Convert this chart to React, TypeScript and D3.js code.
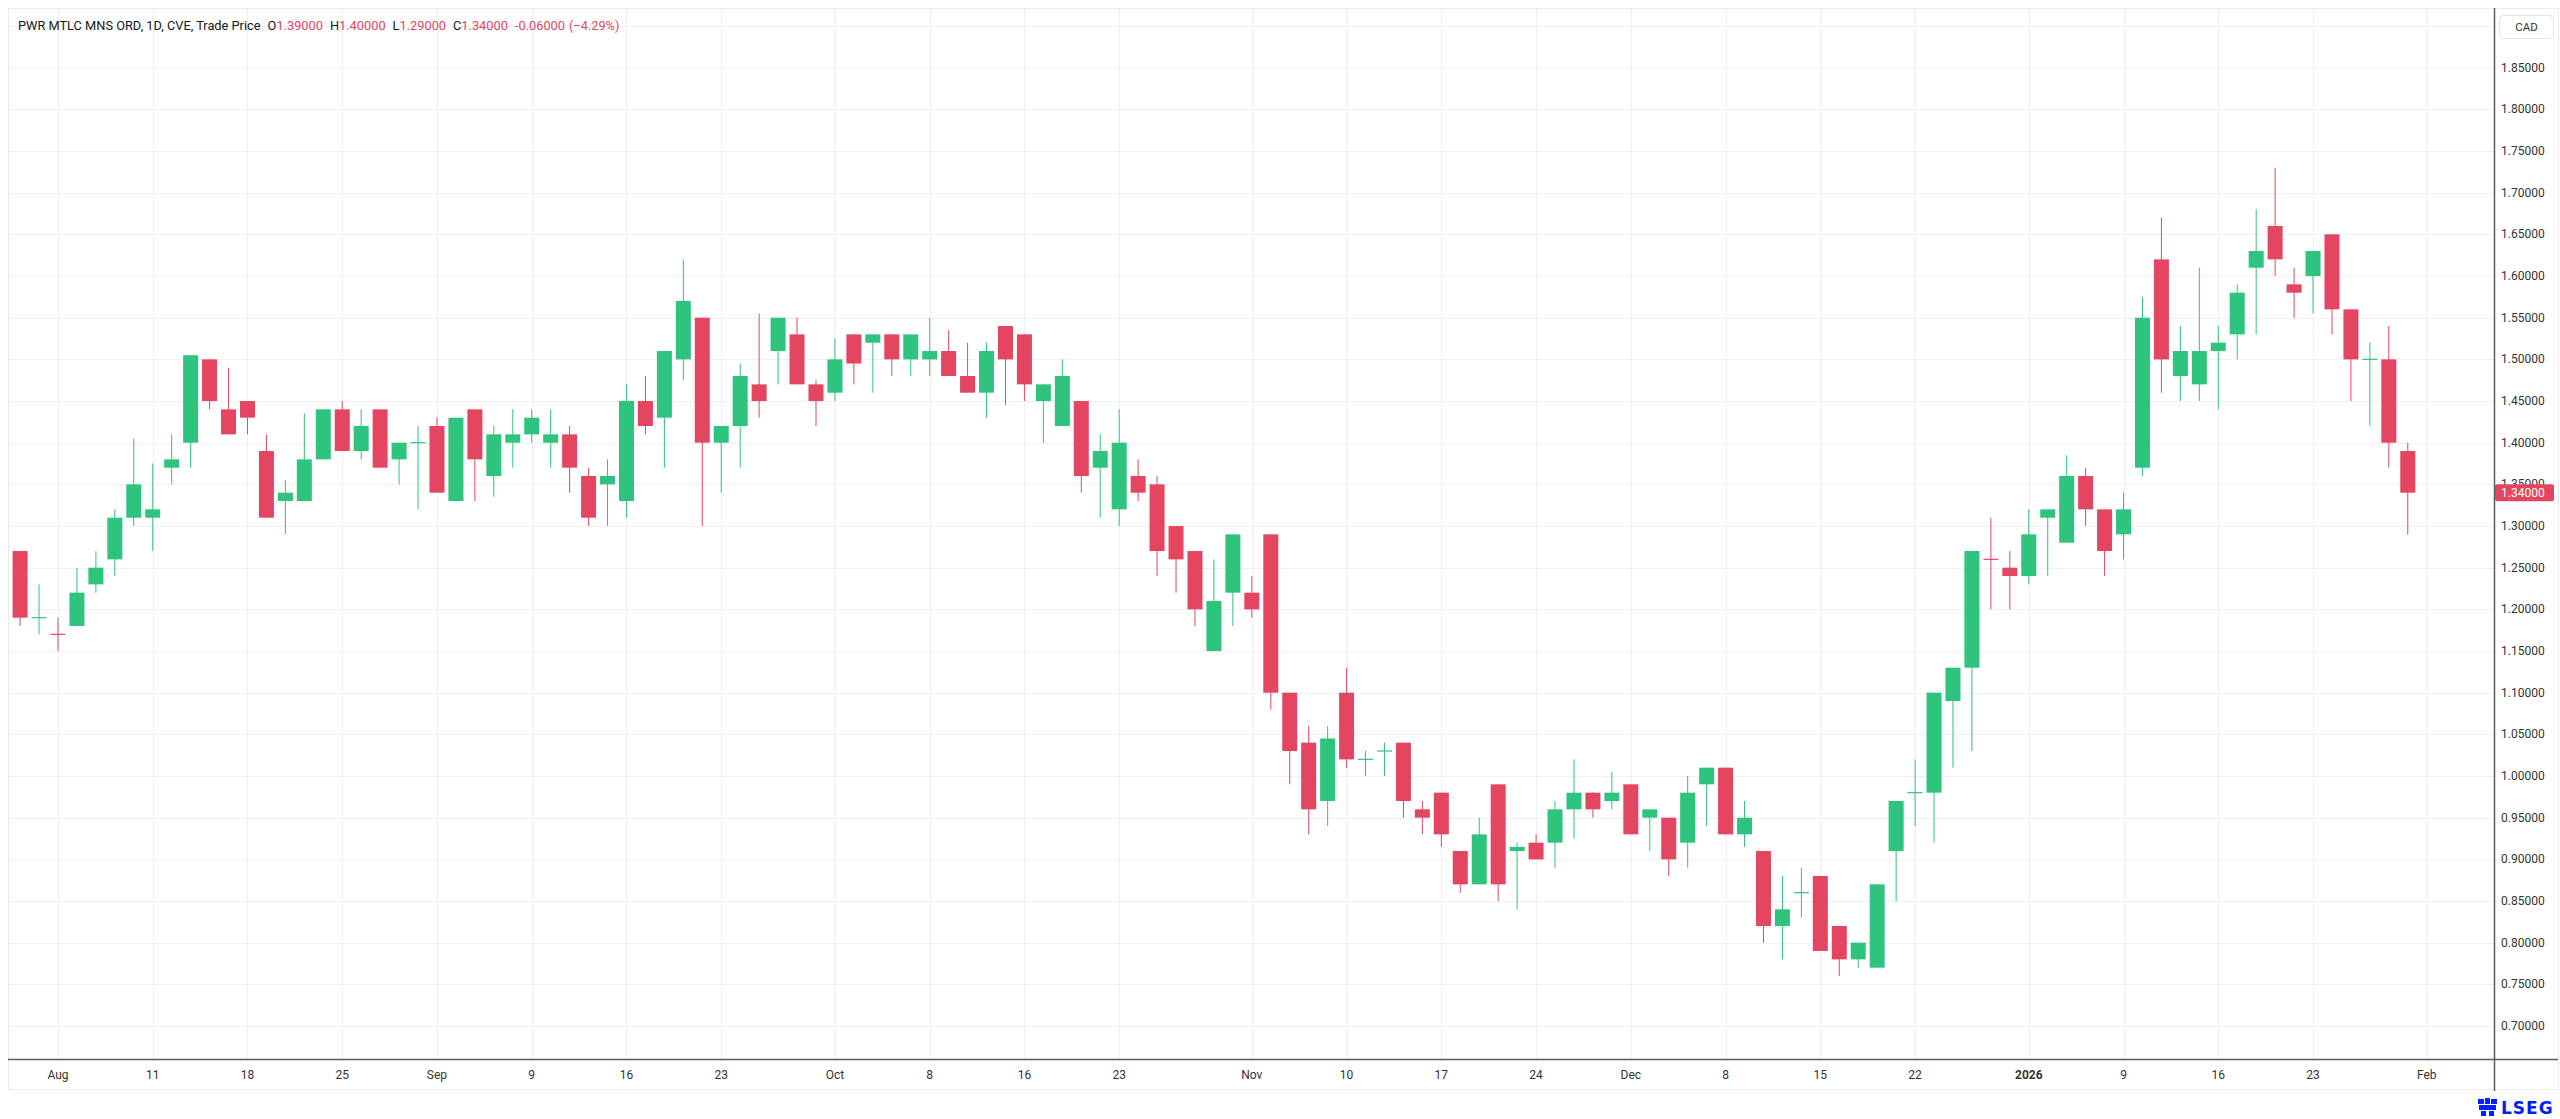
import React from "react";
import * as d3 from "d3";

// ---------- data ----------
const dates = [
  "2025-07-30","2025-07-31","2025-08-01","2025-08-05","2025-08-06","2025-08-07","2025-08-08","2025-08-11","2025-08-12","2025-08-13",
  "2025-08-14","2025-08-15","2025-08-18","2025-08-19","2025-08-20","2025-08-21","2025-08-22","2025-08-25","2025-08-26","2025-08-27",
  "2025-08-28","2025-08-29","2025-09-02","2025-09-03","2025-09-04","2025-09-05","2025-09-08","2025-09-09","2025-09-10","2025-09-11",
  "2025-09-12","2025-09-15","2025-09-16","2025-09-17","2025-09-18","2025-09-19","2025-09-22","2025-09-23","2025-09-24","2025-09-25",
  "2025-09-26","2025-09-29","2025-09-30","2025-10-01","2025-10-02","2025-10-03","2025-10-06","2025-10-07","2025-10-08","2025-10-09",
  "2025-10-10","2025-10-14","2025-10-15","2025-10-16","2025-10-17","2025-10-20","2025-10-21","2025-10-22","2025-10-23","2025-10-24",
  "2025-10-27","2025-10-28","2025-10-29","2025-10-30","2025-10-31","2025-11-03","2025-11-04","2025-11-05","2025-11-06","2025-11-07",
  "2025-11-10","2025-11-11","2025-11-12","2025-11-13","2025-11-14","2025-11-17","2025-11-18","2025-11-19","2025-11-20","2025-11-21",
  "2025-11-24","2025-11-25","2025-11-26","2025-11-27","2025-11-28","2025-12-01","2025-12-02","2025-12-03","2025-12-04","2025-12-05",
  "2025-12-08","2025-12-09","2025-12-10","2025-12-11","2025-12-12","2025-12-15","2025-12-16","2025-12-17","2025-12-18","2025-12-19",
  "2025-12-22","2025-12-23","2025-12-24","2025-12-29","2025-12-30","2025-12-31","2026-01-02","2026-01-05","2026-01-06","2026-01-07",
  "2026-01-08","2026-01-09","2026-01-12","2026-01-13","2026-01-14","2026-01-15","2026-01-16","2026-01-19","2026-01-20","2026-01-21",
  "2026-01-22","2026-01-23","2026-01-26","2026-01-27","2026-01-28","2026-01-29","2026-01-30",
];

const opens = [
  1.27,1.19,1.17,1.18,1.23,1.26,1.31,1.31,1.37,1.40,
  1.50,1.44,1.45,1.39,1.33,1.33,1.38,1.44,1.39,1.44,
  1.38,1.40,1.42,1.33,1.44,1.36,1.40,1.41,1.40,1.41,
  1.36,1.35,1.33,1.45,1.43,1.50,1.55,1.40,1.42,1.47,
  1.51,1.53,1.47,1.46,1.53,1.52,1.53,1.50,1.50,1.51,
  1.48,1.46,1.54,1.53,1.45,1.42,1.45,1.37,1.32,1.36,
  1.35,1.30,1.27,1.15,1.22,1.22,1.29,1.10,1.04,0.97,
  1.10,1.02,1.03,1.04,0.96,0.98,0.91,0.87,0.99,0.91,
  0.92,0.92,0.96,0.98,0.97,0.99,0.95,0.95,0.92,0.99,
  1.01,0.93,0.91,0.82,0.86,0.88,0.82,0.78,0.77,0.91,
  0.98,0.98,1.09,1.13,1.26,1.25,1.24,1.31,1.28,1.36,
  1.32,1.29,1.37,1.62,1.48,1.47,1.51,1.53,1.61,1.66,
  1.59,1.60,1.65,1.56,1.50,1.50,1.39,
];

const highs = [
  1.27,1.23,1.19,1.25,1.27,1.32,1.405,1.375,1.41,1.505,
  1.50,1.49,1.45,1.41,1.355,1.435,1.44,1.45,1.44,1.44,
  1.40,1.42,1.43,1.43,1.44,1.42,1.44,1.44,1.44,1.42,
  1.37,1.38,1.47,1.48,1.51,1.62,1.55,1.42,1.495,1.555,
  1.55,1.55,1.475,1.525,1.53,1.53,1.53,1.53,1.55,1.535,
  1.52,1.52,1.54,1.53,1.47,1.50,1.45,1.41,1.44,1.38,
  1.36,1.30,1.27,1.26,1.29,1.24,1.29,1.10,1.06,1.06,
  1.13,1.03,1.04,1.04,0.97,0.98,0.91,0.95,0.99,0.92,
  0.93,0.97,1.02,0.98,1.005,0.99,0.96,0.95,1.00,1.01,
  1.01,0.97,0.91,0.88,0.89,0.88,0.82,0.80,0.87,0.97,
  1.02,1.10,1.13,1.27,1.31,1.27,1.32,1.32,1.385,1.37,
  1.32,1.34,1.575,1.67,1.54,1.61,1.54,1.59,1.68,1.73,
  1.61,1.63,1.65,1.56,1.52,1.54,1.40,
];

const lows = [
  1.18,1.17,1.15,1.18,1.22,1.24,1.30,1.27,1.35,1.37,
  1.44,1.41,1.41,1.31,1.29,1.33,1.38,1.39,1.38,1.37,
  1.35,1.32,1.34,1.33,1.33,1.335,1.37,1.40,1.37,1.34,
  1.30,1.30,1.31,1.41,1.37,1.475,1.30,1.34,1.37,1.43,
  1.47,1.47,1.42,1.45,1.47,1.46,1.48,1.48,1.48,1.48,
  1.46,1.43,1.445,1.45,1.40,1.42,1.34,1.31,1.30,1.33,
  1.24,1.22,1.18,1.15,1.18,1.19,1.08,0.99,0.93,0.94,
  1.01,1.00,1.00,0.95,0.93,0.915,0.86,0.87,0.85,0.84,
  0.90,0.89,0.925,0.95,0.96,0.93,0.91,0.88,0.89,0.94,
  0.93,0.915,0.80,0.78,0.83,0.79,0.76,0.77,0.77,0.85,
  0.94,0.92,1.01,1.03,1.20,1.20,1.23,1.24,1.28,1.30,
  1.24,1.26,1.36,1.46,1.45,1.45,1.44,1.50,1.53,1.60,
  1.55,1.555,1.53,1.45,1.42,1.37,1.29,
];

const closes = [
  1.19,1.19,1.17,1.22,1.25,1.31,1.35,1.32,1.38,1.505,
  1.45,1.41,1.43,1.31,1.34,1.38,1.44,1.39,1.42,1.37,
  1.40,1.40,1.34,1.43,1.38,1.41,1.41,1.43,1.41,1.37,
  1.31,1.36,1.45,1.42,1.51,1.57,1.40,1.42,1.48,1.45,
  1.55,1.47,1.45,1.50,1.495,1.53,1.50,1.53,1.51,1.48,
  1.46,1.51,1.50,1.47,1.47,1.48,1.36,1.39,1.40,1.34,
  1.27,1.26,1.20,1.21,1.29,1.20,1.10,1.03,0.96,1.045,
  1.02,1.02,1.03,0.97,0.95,0.93,0.87,0.93,0.87,0.915,
  0.90,0.96,0.98,0.96,0.98,0.93,0.96,0.90,0.98,1.01,
  0.93,0.95,0.82,0.84,0.86,0.79,0.78,0.80,0.87,0.97,
  0.98,1.10,1.13,1.27,1.26,1.24,1.29,1.32,1.36,1.32,
  1.27,1.32,1.55,1.50,1.51,1.51,1.52,1.58,1.63,1.62,
  1.58,1.63,1.56,1.50,1.50,1.40,1.34,
];

const timeTickIndex = [2, 7, 12, 17, 22, 27, 32, 37, 43, 48, 53, 58, 65, 70, 75, 80, 85, 90, 95, 100, 106, 111, 116, 121, 127];
const timeTickLabels = ["Aug", "11", "18", "25", "Sep", "9", "16", "23", "Oct", "8", "16", "23", "Nov", "10", "17", "24", "Dec", "8", "15", "22", "2026", "9", "16", "23", "Feb"];
const yearLabels = ["2026"];

const priceTicks = [0.70, 0.75, 0.80, 0.85, 0.90, 0.95, 1.00, 1.05, 1.10, 1.15, 1.20, 1.25, 1.30, 1.35, 1.40, 1.45, 1.50, 1.55, 1.60, 1.65, 1.70, 1.75, 1.80, 1.85];
const extraGridPrices = [1.90];

const symbolName = "PWR MTLC MNS ORD";
const intervalName = "1D";
const exchangeName = "CVE";
const priceType = "Trade Price";
const currency = "CAD";

// ---------- style ----------
const W = 2560;
const H = 1119;
const UP = "#2ec47e";
const DOWN = "#e44661";
const GRID = "#f0f0f0";
const AXIS = "#5d5d5d";
const TEXT = "#333333";
const FONT = "Roboto, 'Open Sans', sans-serif";

const PANE_L = 8;
const PANE_T = 8;
const PANE_R = 2494;
const PANE_B = 1059;
const OUTER_R = 2558;
const OUTER_B = 1089;

export default function App() {
  const n = closes.length;
  const bars = dates.map((d, i) => {
    const o = opens[i], c = closes[i];
    let up: boolean;
    if (c > o) up = true;
    else if (c < o) up = false;
    else up = i === 0 ? true : c >= closes[i - 1];
    return { d, i, o, h: highs[i], l: lows[i], c, up };
  });

  const x = d3.scaleLinear().domain([-0.585, 130.55]).range([PANE_L + 1, PANE_R]);
  const y = d3.scaleLinear().domain([0.70, 1.85]).range([1026, 67.7]);
  const step = x(1) - x(0);
  const bodyW = Math.round(step * 0.79);

  const last = bars[n - 1];
  const prev = bars[n - 2];
  const chg = last.c - prev.c;
  const pct = (chg / prev.c) * 100;
  const fmt = d3.format(".5f");
  const chgStr = (chg < 0 ? "-" : "+") + fmt(Math.abs(chg));
  const pctStr = "(" + (pct < 0 ? "\u2212" : "+") + Math.abs(pct).toFixed(2) + "%)";
  const lastCol = last.c >= prev.c ? UP : DOWN;

  return (
    <svg
      width={W}
      height={H}
      viewBox={`0 0 ${W} ${H}`}
      style={{ position: "absolute", left: 0, top: 0, display: "block", background: "#ffffff" }}
      fontFamily={FONT}
    >
      <rect x={0} y={0} width={W} height={H} fill="#ffffff" />
      {/* outer frame */}
      <rect x={PANE_L + 0.5} y={PANE_T + 0.5} width={OUTER_R - PANE_L} height={OUTER_B - PANE_T} fill="none" stroke="#ebebeb" strokeWidth={1} />

      {/* horizontal grid */}
      <g>
        {[...priceTicks, ...extraGridPrices].map((p) => (
          <line key={"hg" + p} x1={PANE_L + 1} x2={PANE_R} y1={Math.round(y(p)) + 0.5} y2={Math.round(y(p)) + 0.5} stroke={GRID} strokeWidth={1.2} />
        ))}
      </g>
      {/* vertical grid */}
      <g>
        {timeTickIndex.map((ti, k) => (
          <line key={"vg" + k} x1={Math.round(x(ti)) + 0.5} x2={Math.round(x(ti)) + 0.5} y1={PANE_T + 1} y2={PANE_B} stroke={GRID} strokeWidth={1.2} />
        ))}
      </g>

      {/* candles */}
      <g>
        {bars.map((b) => {
          const cx = x(b.i);
          const col = b.up ? UP : DOWN;
          const top = y(Math.max(b.o, b.c));
          const bot = y(Math.min(b.o, b.c));
          const doji = b.o === b.c;
          return (
            <g key={b.d}>
              <line x1={cx} x2={cx} y1={y(b.h)} y2={y(b.l)} stroke={col} strokeWidth={1} />
              {doji ? (
                <line x1={cx - bodyW / 2} x2={cx + bodyW / 2} y1={top} y2={top} stroke={col} strokeWidth={1.2} />
              ) : (
                <rect x={cx - bodyW / 2} y={top} width={bodyW} height={Math.max(1, bot - top)} fill={col} />
              )}
            </g>
          );
        })}
      </g>

      {/* legend / title */}
      <text x={18} y={25} fontSize={12.8} fill="#131722" dominantBaseline="central">
        <tspan>{`${symbolName}, ${intervalName}, ${exchangeName}, ${priceType}`}</tspan>
        <tspan dx={7}>O</tspan>
        <tspan fill={lastCol}>{fmt(last.o)}</tspan>
        <tspan dx={7}>H</tspan>
        <tspan fill={lastCol}>{fmt(last.h)}</tspan>
        <tspan dx={7}>L</tspan>
        <tspan fill={lastCol}>{fmt(last.l)}</tspan>
        <tspan dx={7}>C</tspan>
        <tspan fill={lastCol}>{fmt(last.c)}</tspan>
        <tspan dx={7} fill={lastCol}>{chgStr}</tspan>
        <tspan dx={4} fill={lastCol}>{pctStr}</tspan>
      </text>

      {/* price axis */}
      <g>
        {priceTicks.map((p) => (
          <text key={"pt" + p} x={2501} y={y(p)} fontSize={12} fill={TEXT} dominantBaseline="central">
            {fmt(p)}
          </text>
        ))}
      </g>
      <rect x={2499.5} y={15.5} width={54} height={23} rx={4} fill="#ffffff" stroke="#e3e3e3" />
      <text x={2526.5} y={27} fontSize={11.5} fill={TEXT} textAnchor="middle" dominantBaseline="central">
        {currency}
      </text>
      {/* last price label */}
      <rect x={PANE_R + 1} y={y(last.c) - 8.5} width={OUTER_R - PANE_R - 5} height={17} rx={2} fill={lastCol} />
      <text x={2501} y={y(last.c)} fontSize={12} fill="#ffffff" dominantBaseline="central">
        {fmt(last.c)}
      </text>

      {/* time axis */}
      <g>
        {timeTickIndex.map((ti, k) => (
          <text
            key={"tt" + k}
            x={x(ti)}
            y={1075}
            fontSize={12}
            fill={TEXT}
            textAnchor="middle"
            dominantBaseline="central"
            fontWeight={yearLabels.includes(timeTickLabels[k]) ? 700 : 400}
          >
            {timeTickLabels[k]}
          </text>
        ))}
      </g>

      {/* axis lines */}
      <line x1={PANE_L} x2={OUTER_R} y1={PANE_B + 0.5} y2={PANE_B + 0.5} stroke={AXIS} strokeWidth={1.5} />
      <line x1={PANE_R + 0.5} x2={PANE_R + 0.5} y1={PANE_T} y2={OUTER_B + 2} stroke={AXIS} strokeWidth={1.5} />

      {/* LSEG logo */}
      <g fill="#001eff">
        <rect x={2478} y={1099} width={6} height={5} />
        <rect x={2485} y={1098} width={5} height={6} />
        <rect x={2491} y={1099} width={6} height={5} />
        <rect x={2479} y={1105} width={17} height={5} />
        <rect x={2481} y={1111} width={5} height={5} />
        <rect x={2489} y={1111} width={5} height={5} />
        <text x={2501} y={1108} fontSize={17} fontWeight={700} fontFamily="'DejaVu Sans', sans-serif" dominantBaseline="central" letterSpacing={1}>
          LSEG
        </text>
      </g>
    </svg>
  );
}
